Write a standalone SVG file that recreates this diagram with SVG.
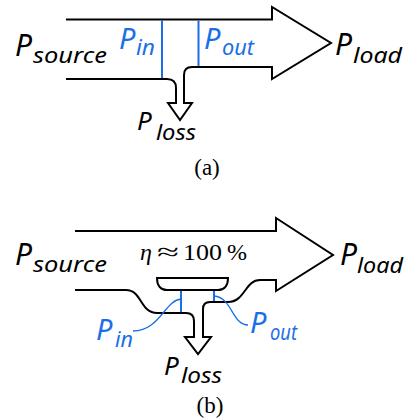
<svg xmlns="http://www.w3.org/2000/svg" width="409" height="419" viewBox="0 0 409 419">
<style>
.flow{fill:#fff;stroke:#000;stroke-width:2;stroke-linejoin:miter}
.bl{fill:none;stroke:#1a6fe8;stroke-width:2}
.ld{fill:none;stroke:#1a6fe8;stroke-width:1.3}
.m{font-family:"Noto Sans","Open Sans",sans-serif;font-style:italic;font-size:30px;fill:#000}
.s{font-family:"Noto Sans","Open Sans",sans-serif;font-style:italic;font-size:22px;fill:#000}
.blue{fill:#1a6fe8}
.cap{font-family:"Liberation Serif","Times New Roman",serif;font-size:23px;fill:#000;text-anchor:middle}
.eta{font-family:"Liberation Serif","Times New Roman",serif;font-size:24px;fill:#000}
</style>
<rect width="409" height="419" fill="#fff"/>
<g id="connectors">
  <path id="flow-a" class="flow" d="M66,19.5 H272 V7 L331,43 L272,79 V67 H192 Q184,67 184,75 V103 H192 L180,120 L168,103 H176 V88 Q176,79 167,79 H66"/>
  <line class="bl" x1="162" y1="20.5" x2="162" y2="78"/>
  <line class="bl" x1="198.5" y1="20.5" x2="198.5" y2="66"/>
  <path id="flow-b" class="flow" d="M75,231 H276 V218 L333,255 L276,291 V280 H260 C245,280 245,302 228,302 H210 Q203,302 203,309 V337 H211 L198,354 L185,337 H194 V321 Q194,313 186,313 H157 C140,313 142,290 126,290 H75"/>
  <line class="bl" x1="181" y1="290" x2="181" y2="312"/>
  <line class="bl" x1="214" y1="290" x2="214" y2="301"/>
  <path class="ld" d="M181,299 C165,300 160,331 133,331"/>
  <path class="ld" d="M214,296 C232,297 232,325 248,325"/>
</g>
<g id="transformer">
  <path class="flow" d="M157,278 H228 C228,286 224,290 218,290 H167 C161,290 157,286 157,278 Z"/>
</g>
<g id="psource-a"><text class="m" x="15" y="56">P</text><text class="s" x="33" y="63" textLength="74" lengthAdjust="spacingAndGlyphs">source</text></g>
<g id="pin-a"><text class="m blue" x="119" y="49" style="font-size:29px">P</text><text class="s blue" x="136" y="55" textLength="19" lengthAdjust="spacingAndGlyphs">in</text></g>
<g id="pout-a"><text class="m blue" x="204" y="49" style="font-size:29px">P</text><text class="s blue" x="222" y="55" textLength="32" lengthAdjust="spacingAndGlyphs">out</text></g>
<g id="pload-a"><text class="m" x="335" y="55">P</text><text class="s" x="353" y="63" textLength="49" lengthAdjust="spacingAndGlyphs">load</text></g>
<g id="ploss-a"><text class="m" x="137" y="130" style="font-size:26px">P</text><text class="s" x="156" y="140" textLength="40" lengthAdjust="spacingAndGlyphs" style="font-size:21px">loss</text></g>
<text class="cap" x="207" y="175">(a)</text>
<g id="psource-b"><text class="m" x="15" y="265">P</text><text class="s" x="33" y="272" textLength="74" lengthAdjust="spacingAndGlyphs">source</text></g>
<g id="pload-b"><text class="m" x="340" y="265">P</text><text class="s" x="357" y="273" textLength="46" lengthAdjust="spacingAndGlyphs">load</text></g>
<g id="eta"><text class="eta" x="140" y="260" font-style="italic">η</text><text class="eta" x="157" y="260" textLength="22" lengthAdjust="spacingAndGlyphs">≈</text><text class="eta" x="183" y="260" textLength="39" lengthAdjust="spacingAndGlyphs">100</text><text class="eta" x="227" y="260" textLength="20" lengthAdjust="spacingAndGlyphs">%</text></g>
<g id="pin-b"><text class="m blue" x="96" y="340" style="font-size:29px">P</text><text class="s blue" x="115" y="347" textLength="18" lengthAdjust="spacingAndGlyphs">in</text></g>
<g id="pout-b"><text class="m blue" x="250" y="333" style="font-size:29px">P</text><text class="s blue" x="270" y="340" textLength="27" lengthAdjust="spacingAndGlyphs">out</text></g>
<g id="ploss-b"><text class="m" x="164" y="375" style="font-size:26px">P</text><text class="s" x="181" y="383" textLength="41" lengthAdjust="spacingAndGlyphs" style="font-size:21px">loss</text></g>
<text class="cap" x="210" y="413">(b)</text>
</svg>
